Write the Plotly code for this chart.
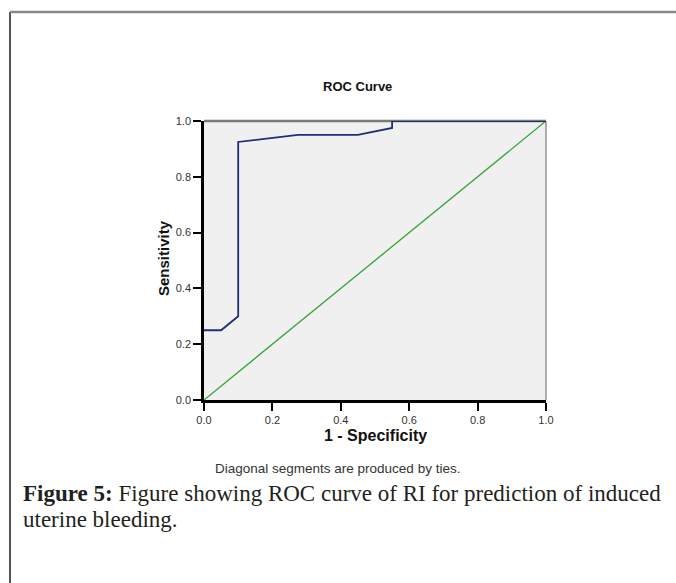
import plotly.graph_objects as go

# ROC curve data (1 - Specificity, Sensitivity)
fpr = [0.0, 0.05, 0.10, 0.10, 0.275, 0.45, 0.55, 0.55, 1.0]
tpr = [0.25, 0.25, 0.30, 0.925, 0.95, 0.95, 0.975, 1.0, 1.0]
ref_x = [0.0, 1.0]
ref_y = [0.0, 1.0]
tick_vals = [0.0, 0.2, 0.4, 0.6, 0.8, 1.0]
tick_text = ["0.0", "0.2", "0.4", "0.6", "0.8", "1.0"]

W, H = 676, 583
L, R, T, B = 204, 546, 121, 400  # plot area pixel bounds


def px(x):
    return (x - L) / (R - L)


def py(y):
    return (B - y) / (B - T)


fig = go.Figure()
fig.add_trace(go.Scatter(x=ref_x, y=ref_y, mode="lines",
                         line=dict(color="#34A334", width=1.3), hoverinfo="skip"))
fig.add_trace(go.Scatter(x=fpr, y=tpr, mode="lines", cliponaxis=False,
                         line=dict(color="#1E2E78", width=1.8), hoverinfo="skip"))

axis_common = dict(range=[0, 1], tickvals=tick_vals, ticktext=tick_text,
                   ticks="outside", ticklen=8, tickwidth=2, tickcolor="#000",
                   showline=True, linecolor="#000", linewidth=2.5,
                   showgrid=False, zeroline=False, layer="above traces",
                   tickfont=dict(family="Liberation Sans, Arial", size=11, color="#333"))

fig.update_layout(
    width=W, height=H, autosize=False,
    margin=dict(l=L, r=W - R, t=T, b=H - B, pad=0),
    paper_bgcolor="white", plot_bgcolor="#F0F0F0",
    showlegend=False,
    xaxis=axis_common,
    yaxis=axis_common,
)

shapes = [
    # plot top & right border (gray), under the traces
    dict(type="line", xref="paper", yref="paper", x0=0, x1=1, y0=1, y1=1, layer="below",
         line=dict(color="#7A7A7A", width=2.5)),
    dict(type="line", xref="paper", yref="paper", x0=1, x1=1, y0=0, y1=1, layer="below",
         line=dict(color="#7A7A7A", width=1.2)),
    # outer frame
    dict(type="line", xref="paper", yref="paper", x0=px(10), x1=px(10), y0=py(12), y1=py(590),
         line=dict(color="#555", width=2)),
    dict(type="line", xref="paper", yref="paper", x0=px(10), x1=px(690), y0=py(12), y1=py(12),
         line=dict(color="#8A8A8A", width=2.5)),
]
fig.update_layout(shapes=shapes)

ann = [
    dict(text="<b>ROC Curve</b>", x=px(357), y=py(86), font=dict(size=13, family="Liberation Sans, Arial", color="#111"),
         xanchor="center", yanchor="middle"),
    dict(text="<b>Sensitivity</b>", x=px(163), y=py(258), textangle=-90,
         font=dict(size=15, family="Liberation Sans, Arial", color="#111"), xanchor="center", yanchor="middle"),
    dict(text="<b>1 - Specificity</b>", x=px(375), y=py(436),
         font=dict(size=16, family="Liberation Sans, Arial", color="#111"), xanchor="center", yanchor="middle"),
    dict(text="Diagonal segments are produced by ties.", x=px(337), y=py(468),
         font=dict(size=13.5, family="Liberation Sans, Arial", color="#333"), xanchor="center", yanchor="middle"),
    dict(text="<b>Figure 5:</b> Figure showing ROC curve of RI for prediction of induced", x=px(21), y=py(493),
         font=dict(size=23, family="Liberation Serif, Times New Roman", color="#231F20"), xanchor="left", yanchor="middle"),
    dict(text="uterine bleeding.", x=px(21), y=py(519),
         font=dict(size=23, family="Liberation Serif, Times New Roman", color="#231F20"), xanchor="left", yanchor="middle"),
]
for a in ann:
    a.update(xref="paper", yref="paper", showarrow=False)
fig.update_layout(annotations=ann)

fig.write_html("out.html", config={"displayModeBar": False},
               post_script="document.body.style.margin='0';")
